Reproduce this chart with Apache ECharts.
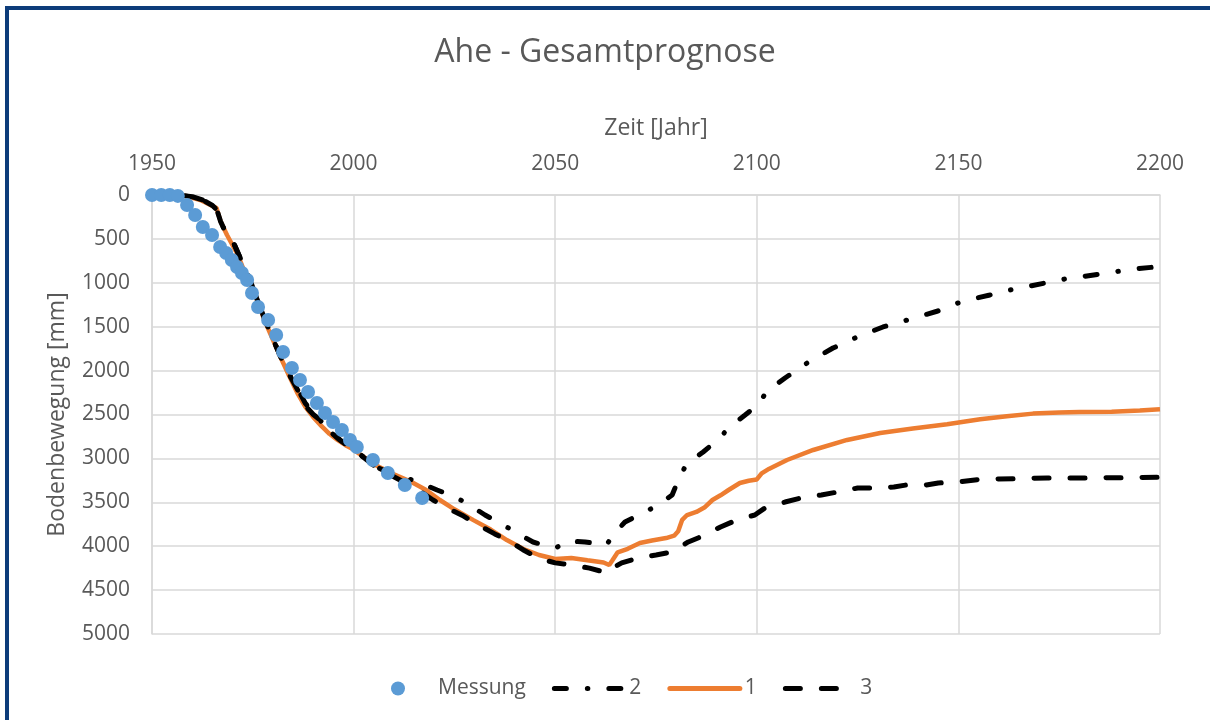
<!DOCTYPE html>
<html>
<head>
<meta charset="utf-8">
<script src="https://cdn.jsdelivr.net/npm/echarts@6/dist/echarts.min.js"></script>
<style>
  html, body { margin: 0; padding: 0; background: #fff; }
  #rahmen { position: absolute; left: 5px; top: 6px; width: 1205px; height: 714px;
            border-top: 4px solid #0d3c7a; border-left: 4px solid #0d3c7a; box-sizing: border-box; }
  #main { position: absolute; left: 0; top: 0; width: 1210px; height: 720px; }
</style>
</head>
<body>
<div id="rahmen"></div>
<div id="main"></div>
<script>
// Messung (Jahr / Bodenbewegung mm)
var messJahre = [1950, 1952.3, 1954.4, 1956.4, 1958.7, 1960.7, 1962.6, 1964.9, 1966.9, 1968.4, 1969.8, 1971.1,
                 1972.3, 1973.6, 1974.8, 1976.3, 1978.8, 1980.8, 1982.5, 1984.7, 1986.7, 1988.7, 1990.9,
                 1992.9, 1994.9, 1997.1, 1999.1, 2000.8, 2004.8, 2008.5, 2012.7, 2017.0];
var messWerte = [0, 0, 0, 10, 114, 228, 364, 456, 592, 661, 740, 820,
                 888, 968, 1116, 1276, 1424, 1595, 1788, 1970, 2107, 2244, 2369,
                 2483, 2585, 2677, 2790, 2870, 3018, 3166, 3303, 3451];

// Prognose 1 (orange)
var prog1Jahre = [1950, 1957, 1959.4, 1962, 1966, 1967, 1968.6, 1971.3, 1973, 1975, 1976.5, 1978, 1980, 1982, 1984,
                  1986, 1988, 1990, 1992, 1994, 1996, 1998, 2000, 2003, 2006, 2010, 2014, 2018, 2021.4, 2025,
                  2029.6, 2034, 2038, 2042, 2046, 2050, 2054, 2058, 2062, 2063.4, 2064.2, 2065.5, 2068, 2071, 2074,
                  2077.5, 2079.5, 2080.5, 2081.5, 2082.7, 2085, 2087, 2089, 2091, 2093, 2095.8, 2098, 2100,
                  2101.2, 2103, 2107.5, 2114, 2122.4, 2130.6, 2138.7, 2147.2, 2155.4, 2162, 2168.5, 2175, 2180,
                  2188, 2195, 2200];
var prog1Werte = [0, 0, 23, 57, 148, 300, 456, 683, 880, 1080, 1250, 1440, 1650, 1860, 2060,
                  2250, 2410, 2530, 2630, 2720, 2790, 2850, 2900, 3000, 3090, 3180, 3260, 3360, 3474, 3580,
                  3700, 3810, 3930, 4030, 4100, 4146, 4134, 4160, 4185, 4214, 4160, 4070, 4030, 3964, 3935,
                  3907, 3880, 3830, 3700, 3645, 3610, 3560, 3474, 3420, 3360, 3280, 3255, 3240,
                  3170, 3120, 3018, 2904, 2790, 2711, 2660, 2610, 2555, 2520, 2490, 2478, 2471,
                  2468, 2455, 2440];

// Prognose 2 (strich-punkt)
var prog2Jahre = [1950, 1957, 1960, 1962.6, 1965, 1966.1, 1967, 1968, 1969.8, 1972, 1974, 1976, 1978, 1980, 1982,
                  1984, 1986.7, 1988, 1990, 1992, 1994, 1996.6, 2000.8, 2005.8, 2010, 2015, 2020.7, 2025.2,
                  2028.8, 2032.6, 2037.1, 2040.5, 2044.5, 2049.5, 2050.5, 2052.9, 2057.4, 2062.8, 2064.1,
                  2067.3, 2072.3, 2075.5, 2079, 2080.5, 2082.5, 2086.7, 2090.9, 2092.9, 2097.1, 2100.6, 2102.3,
                  2107, 2112.5, 2118.9, 2124.9, 2131.3, 2137.3, 2144.9, 2149.9, 2153.4, 2157.8, 2162.8, 2166.5,
                  2171.5, 2176.4, 2180.2, 2185.1, 2190.1, 2193.3, 2198.8, 2200];
var prog2Werte = [0, 0, 20, 57, 120, 170, 300, 400, 500, 730, 930, 1180, 1420, 1640, 1850,
                  2040, 2255, 2370, 2480, 2580, 2680, 2790, 2927, 3100, 3190, 3250, 3360, 3440,
                  3531, 3645, 3758, 3850, 3952, 4020, 4010, 3941, 3952, 3986, 3880,
                  3724, 3610, 3531, 3417, 3250, 3070, 2927, 2768, 2654, 2506, 2380, 2244,
                  2084, 1913, 1743, 1617, 1503, 1424, 1321, 1230, 1185, 1139, 1082, 1048,
                  1002, 957, 934, 900, 866, 843, 820, 808];

// Prognose 3 (gestrichelt)
var prog3Jahre = [1950, 1957, 1960, 1962.6, 1965, 1966.1, 1967, 1968, 1969.8, 1972, 1974, 1976, 1978, 1980, 1982,
                  1984, 1986.7, 1988, 1990, 1991.7, 1994, 1996.6, 2000.8, 2005.8, 2011.5, 2016, 2019.7, 2023,
                  2027, 2031, 2035, 2039, 2042, 2046, 2050, 2054, 2058.5, 2063, 2064.2, 2066.5, 2070.5, 2075,
                  2079, 2083, 2086, 2091, 2095, 2099.5, 2102, 2107, 2111, 2116, 2120, 2125, 2128, 2134, 2137,
                  2142, 2145, 2150, 2155, 2160, 2165, 2172, 2181, 2190, 2200];
var prog3Werte = [0, 0, 20, 57, 120, 170, 300, 400, 500, 730, 930, 1180, 1420, 1640, 1850,
                  2040, 2270, 2400, 2500, 2563, 2690, 2790, 2927, 3109, 3246, 3360, 3474, 3560,
                  3650, 3760, 3860, 3950, 4040, 4140, 4190, 4214, 4250, 4305, 4250, 4190, 4135, 4100,
                  4066, 3952, 3895, 3781, 3702, 3645, 3565, 3497, 3451, 3417, 3383, 3337, 3337, 3326, 3303,
                  3303, 3280, 3269, 3240, 3235, 3230, 3223, 3223, 3220, 3215];

var xTicks = [1950, 2200, 50];
var yTicks = [0, 5000, 500];

function paare(jahre, werte) {
    var out = [];
    for (var i = 0; i < jahre.length; i++) {
        out.push([jahre[i], werte[i]]);
    }
    return out;
}

var textFarbe = '#595959';
var schrift = '"Open Sans", "Noto Sans", sans-serif';

var myChart = echarts.init(document.getElementById('main'), null, { renderer: 'canvas' });
myChart.setOption({
    animation: false,
    backgroundColor: 'transparent',
    textStyle: { fontFamily: schrift, color: textFarbe },
    title: {
        text: 'Ahe - Gesamtprognose',
        left: 'center',
        top: 32,
        textStyle: { fontFamily: schrift, fontSize: 32, fontWeight: 'normal', color: textFarbe }
    },
    legend: {
        data: [
            { name: 'Messung' },
            { name: '2', itemStyle: { opacity: 0 } },
            { name: '1', itemStyle: { opacity: 0 } },
            { name: '3', itemStyle: { opacity: 0 } }
        ],
        left: 386,
        top: 673,
        itemWidth: 70,
        itemHeight: 14,
        itemGap: 26,
        lineStyle: { width: 5, cap: 'round' },
        textStyle: { fontFamily: schrift, fontSize: 21, color: textFarbe }
    },
    grid: {
        left: 152,
        right: 50,
        top: 195,
        bottom: 86
    },
    xAxis: {
        type: 'value',
        position: 'top',
        min: xTicks[0],
        max: xTicks[1],
        interval: xTicks[2],
        name: 'Zeit [Jahr]',
        nameLocation: 'middle',
        nameGap: 55,
        nameTextStyle: { fontFamily: schrift, fontSize: 23, color: textFarbe },
        axisLine: { lineStyle: { color: '#d9d9d9', width: 1.5 } },
        axisTick: { show: false },
        axisLabel: { margin: 20, fontFamily: schrift, fontSize: 21, color: textFarbe,
                     formatter: function (v) { return String(v); } },
        splitLine: { show: true, lineStyle: { color: '#d9d9d9', width: 1.5 } }
    },
    yAxis: {
        type: 'value',
        inverse: true,
        min: yTicks[0],
        max: yTicks[1],
        interval: yTicks[2],
        name: 'Bodenbewegung [mm]',
        nameLocation: 'middle',
        nameGap: 83,
        nameTextStyle: { fontFamily: schrift, fontSize: 23, color: textFarbe },
        axisLine: { show: true, lineStyle: { color: '#d9d9d9', width: 1.5 } },
        axisTick: { show: false },
        axisLabel: { margin: 22, fontFamily: schrift, fontSize: 21, color: textFarbe,
                     formatter: function (v) { return String(v); } },
        splitLine: { show: true, lineStyle: { color: '#d9d9d9', width: 1.5 } }
    },
    series: [
        {
            name: 'Messung',
            type: 'scatter',
            symbol: 'circle',
            symbolSize: 14,
            z: 5,
            itemStyle: { color: '#5b9bd5', opacity: 1 },
            data: paare(messJahre, messWerte)
        },
        {
            name: '2',
            type: 'line',
            symbol: 'none',
            z: 3,
            lineStyle: { color: '#000', width: 5, type: [12, 21, 0.5, 21], cap: 'round' },
            itemStyle: { color: '#000' },
            data: paare(prog2Jahre, prog2Werte)
        },
        {
            name: '1',
            type: 'line',
            symbol: 'none',
            z: 2,
            lineStyle: { color: '#ed7d31', width: 4.5 },
            itemStyle: { color: '#ed7d31' },
            data: paare(prog1Jahre, prog1Werte)
        },
        {
            name: '3',
            type: 'line',
            symbol: 'none',
            z: 3,
            lineStyle: { color: '#000', width: 5, type: [15, 21], cap: 'round' },
            itemStyle: { color: '#000' },
            data: paare(prog3Jahre, prog3Werte)
        }
    ]
});
</script>
</body>
</html>
